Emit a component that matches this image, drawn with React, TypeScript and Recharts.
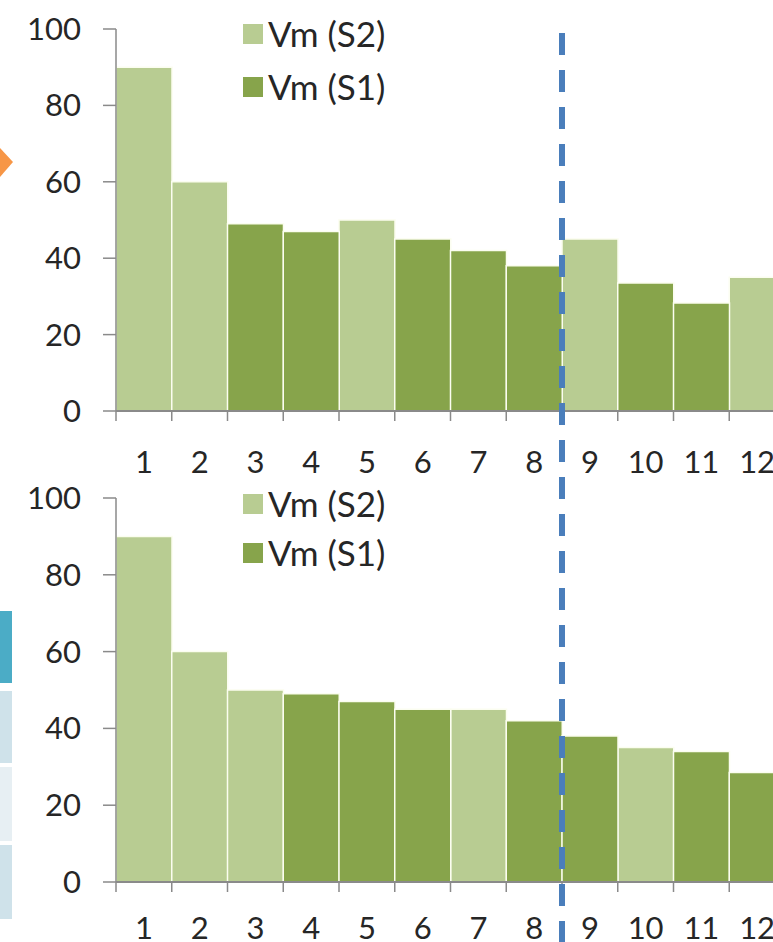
import { Bar, BarChart, Legend, XAxis, YAxis } from "recharts";

const categories = ["1", "2", "3", "4", "5", "6", "7", "8", "9", "10", "11", "12"];

// upper panel
const upperS2 = [90, 60, null, null, 50, null, null, null, 45, null, null, 35];
const upperS1 = [null, null, 49, 47, null, 45, 42, 38, null, 33.5, 28.3, null];

// lower panel
const lowerS2 = [90, 60, 50, null, null, null, 45, null, null, 35, null, null];
const lowerS1 = [null, null, null, 49, 47, 45, null, 42, 38, null, 34, 28.5];

const yTicks = [0, 20, 40, 60, 80, 100];

const S2_NAME = "Vm (S2)";
const S1_NAME = "Vm (S1)";
const S2_COLOR = "#b8cc92";
const S1_COLOR = "#87a44b";
const AXIS_COLOR = "#8a8a8a";
const TEXT_COLOR = "#262626";
const FONT = "Lato, 'Open Sans', sans-serif";
const FONT_SIZE = 31;
const LEGEND_FONT_SIZE = 35;

const CHART_W = 800;
const Y_AXIS_W = 116;
const RIGHT_PAD = 15;
const BAND = (CHART_W - Y_AXIS_W - RIGHT_PAD) / categories.length;

function buildRows(s2: (number | null)[], s1: (number | null)[]) {
  return categories.map((label, i) => ({ label, s2: s2[i], s1: s1[i] }));
}

function CategoryTick(props: any) {
  const { x, y, payload, labelGap } = props;
  const edge = x - BAND / 2;
  return (
    <g>
      <line x1={edge} y1={y} x2={edge} y2={y + 10} stroke={AXIS_COLOR} strokeWidth={1.5} />
      <text
        x={x}
        y={y + labelGap}
        dy="0.36em"
        textAnchor="middle"
        fill={TEXT_COLOR}
        fontSize={FONT_SIZE}
        fontFamily={FONT}
      >
        {payload.value}
      </text>
    </g>
  );
}

function SeriesLegend(props: any) {
  const { payload = [], rowHeight } = props;
  const order = [S2_NAME, S1_NAME];
  const items = [...payload].sort((a: any, b: any) => order.indexOf(a.value) - order.indexOf(b.value));
  return (
    <div style={{ fontFamily: FONT, fontSize: LEGEND_FONT_SIZE, color: TEXT_COLOR, lineHeight: 1 }}>
      {items.map((item: any) => (
        <div key={item.value} style={{ display: "flex", alignItems: "center", height: rowHeight }}>
          <span style={{ width: 20, height: 20, background: item.color, marginRight: 5 }} />
          <span>{item.value}</span>
        </div>
      ))}
    </div>
  );
}

function Panel({
  rows,
  height,
  axisHeight,
  labelGap,
  legendTop,
  rowHeight,
}: {
  rows: { label: string; s2: number | null; s1: number | null }[];
  height: number;
  axisHeight: number;
  labelGap: number;
  legendTop: number;
  rowHeight: number;
}) {
  return (
    <BarChart
      width={CHART_W}
      height={height}
      data={rows}
      margin={{ top: 29, right: RIGHT_PAD, left: 0, bottom: 0 }}
      barCategoryGap={0}
    >
      <XAxis
        dataKey="label"
        interval={0}
        height={axisHeight}
        tickSize={0}
        tickMargin={0}
        tickLine={false}
        axisLine={{ stroke: AXIS_COLOR, strokeWidth: 2 }}
        tick={<CategoryTick labelGap={labelGap} />}
      />
      <YAxis
        width={Y_AXIS_W}
        domain={[0, 100]}
        ticks={yTicks}
        interval={0}
        tickSize={13}
        tickMargin={22}
        axisLine={{ stroke: AXIS_COLOR, strokeWidth: 1.5 }}
        tickLine={{ stroke: AXIS_COLOR, strokeWidth: 1.5 }}
        tick={{ fill: TEXT_COLOR, fontSize: FONT_SIZE, fontFamily: FONT }}
      />
      <Legend
        layout="vertical"
        align="center"
        verticalAlign="middle"
        wrapperStyle={{ top: legendTop, left: 243, width: 180 }}
        content={<SeriesLegend rowHeight={rowHeight} />}
      />
      <Bar
        dataKey="s2"
        name={S2_NAME}
        stackId="vm"
        fill={S2_COLOR}
        stroke="#fbfdf0"
        strokeWidth={1.5}
        isAnimationActive={false}
      />
      <Bar
        dataKey="s1"
        name={S1_NAME}
        stackId="vm"
        fill={S1_COLOR}
        stroke="#fbfdf0"
        strokeWidth={1.5}
        isAnimationActive={false}
      />
    </BarChart>
  );
}

export default function App() {
  const splitX = Y_AXIS_W + 8 * BAND;
  return (
    <div
      style={{
        position: "absolute",
        left: 0,
        top: 0,
        width: 773,
        height: 942,
        overflow: "hidden",
        background: "#fff",
      }}
    >
      <div style={{ position: "absolute", left: 0, top: 0 }}>
        <Panel rows={buildRows(upperS2, upperS1)} height={481} axisHeight={70} labelGap={51} legendTop={7} rowHeight={53} />
      </div>
      <div style={{ position: "absolute", left: 0, top: 469 }}>
        <Panel rows={buildRows(lowerS2, lowerS1)} height={473} axisHeight={60} labelGap={46} legendTop={10} rowHeight={49} />
      </div>

      {/* slide edge decorations */}
      <svg width={14} height={942} style={{ position: "absolute", left: 0, top: 0 }}>
        <polygon points="0,148 13,162 0,177" fill="#f79646" />
        <rect x={0} y={611} width={12} height={72} fill="#4bacc6" />
        <rect x={0} y={691} width={12} height={72} fill="#cfe2ea" />
        <rect x={0} y={767} width={12} height={74} fill="#e7eff3" />
        <rect x={0} y={845} width={12} height={74} fill="#cfe2ea" />
      </svg>

      {/* split marker between category 8 and 9 */}
      <svg width={773} height={942} style={{ position: "absolute", left: 0, top: 0, pointerEvents: "none" }}>
        <line x1={splitX} y1={33} x2={splitX} y2={942} stroke="#4a7ebb" strokeWidth={6} strokeDasharray="22 15" />
      </svg>
    </div>
  );
}
